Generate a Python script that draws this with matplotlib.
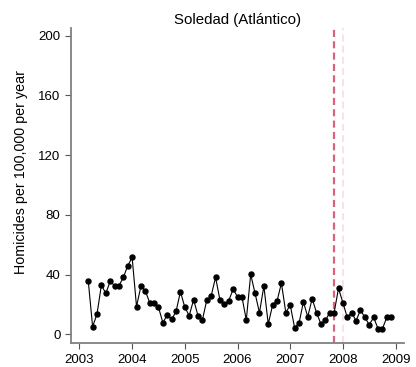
import numpy as np
import matplotlib
matplotlib.use("Agg")
import matplotlib.pyplot as plt

plt.rcParams['font.family'] = ['Liberation Sans', 'DejaVu Sans']

# monthly homicide rate, Soledad (Atlántico), Mar 2003 - Dec 2008
start_year = 2003
start_month = 3
rate = [36.0, 5.1, 13.6, 33.0, 27.4, 35.5, 32.6, 32.6, 38.1, 46.0,
        51.5, 18.6, 32.3, 29.2, 21.2, 21.2, 18.1, 7.8, 13.0, 10.0,
        15.3, 28.6, 18.1, 12.5, 23.2, 12.5, 9.6, 23.0, 25.7, 38.2,
        23.0, 20.3, 22.6, 30.1, 25.2, 25.2, 9.6, 40.2, 27.4, 14.5,
        32.3, 6.9, 19.7, 22.3, 34.3, 14.5, 19.7, 4.5, 7.3, 21.7,
        11.8, 23.9, 14.5, 6.9, 9.3, 14.5, 14.5, 30.8, 21.2, 11.3,
        14.5, 9.1, 16.3, 11.3, 6.5, 11.3, 3.8, 3.8, 11.3, 11.3]
years = [2003, 2004, 2005, 2006, 2007, 2008, 2009]
yticks = [0, 40, 80, 120, 160, 200]
event_date = 2007 + 10 / 12
ref_date = 2008.0

x = start_year + (np.arange(len(rate)) + start_month - 1) / 12

fig = plt.figure(figsize=(4.16, 3.67), dpi=100)
ax = fig.add_axes([0.1707, 0.0646, 0.8005, 0.8583])

ax.axvline(event_date, color='#d9637f', lw=1.6, linestyle=(0, (3.2, 1.9)))
ax.axvline(ref_date, color='#f8dbe3', lw=1.2, linestyle=(0, (4.2, 2.5)))
ax.plot(x, rate, color='black', lw=0.8, marker='o', markersize=3.6)

ax.set_xlim(2002.84, 2009.16)
ax.set_ylim(-6, 205)
ax.set_xticks(years)
ax.set_yticks(yticks)
ax.tick_params(labelsize=9.5, length=4, width=0.8, color='#555555')
ax.set_ylabel('Homicides per 100,000 per year', fontsize=10.3)
ax.yaxis.set_label_coords(-0.128, 0.544)
ax.set_title('Soledad (Atlántico)', fontsize=10.8, pad=3)

for s in ['top', 'right']:
    ax.spines[s].set_visible(False)
for s in ['left', 'bottom']:
    ax.spines[s].set_color('#808080')
    ax.spines[s].set_linewidth(1.3)

fig.savefig('out.png', dpi=100)
